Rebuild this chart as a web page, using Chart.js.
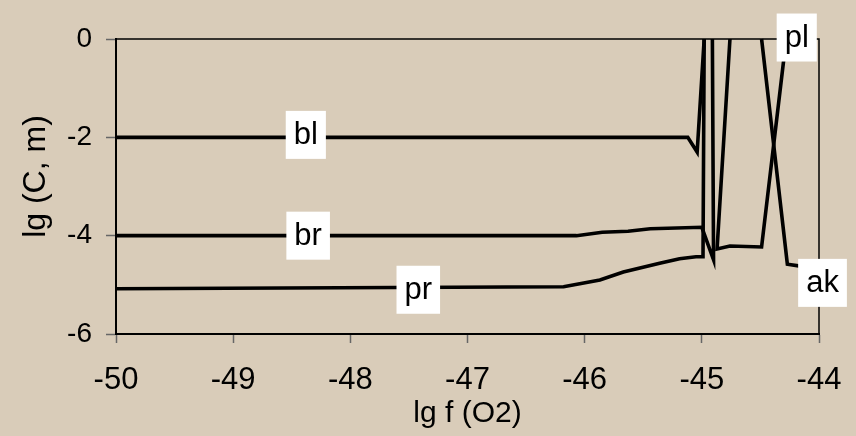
<!DOCTYPE html>
<html>
<head>
<meta charset="utf-8">
<script src="https://cdn.jsdelivr.net/npm/chart.js@4.4.1/dist/chart.umd.min.js"></script>
<style>
  html, body { margin: 0; padding: 0; background: #D9CCB9; }
  canvas { display: block; }
</style>
</head>
<body>
<canvas id="c" width="856" height="436"></canvas>
<script>
// ---- data ----
const blX = [-50, -45.12, -45.04, -44.98];
const blY = [-2, -2, -2.3, 0];

const brX = [-50, -46.07, -45.85, -45.63, -45.44, -45.0, -44.90, -44.91];
const brY = [-4, -4.0, -3.93, -3.91, -3.86, -3.83, -4.49, 0];

const prX = [-50, -46.18, -45.87, -45.67, -45.36, -45.19, -45.05, -44.99, -44.98];
const prY = [-5.08, -5.04, -4.90, -4.74, -4.56, -4.47, -4.43, -4.43, 0];

const plX = [-44.76, -44.87, -44.76, -44.49, -44.28];
const plY = [0, -4.27, -4.21, -4.23, 0];

const akX = [-44.49, -44.27, -44.16, -44.0];
const akY = [0, -4.58, -4.62, -4.65];

const seriesNames = ['bl', 'br', 'pr', 'pl', 'ak'];
const labelX = [-48.38, -48.36, -47.42, -44.19, -43.97];
const labelY = [-1.95, -4.0, -5.1, 0.03, -4.96];

const xTicks = [-50, -49, -48, -47, -46, -45, -44];
const yTicks = [0, -2, -4, -6];
const xTitle = 'lg f (O2)';
const yTitle = 'lg (C, m)';

// ---- build ----
function pts(xs, ys) { return xs.map((x, i) => ({ x: x, y: ys[i] })); }
const allX = [blX, brX, prX, plX, akX];
const allY = [blY, brY, prY, plY, akY];

const FONT = "'Liberation Sans', Arial, sans-serif";

const datasets = seriesNames.map((n, i) => ({
  label: n,
  data: pts(allX[i], allY[i]),
  showLine: true,
  borderColor: '#000000',
  backgroundColor: '#000000',
  borderWidth: 3.6,
  pointRadius: 0,
  pointHoverRadius: 0,
  tension: 0,
  clip: 3
}));

const bgPlugin = {
  id: 'bg',
  beforeDraw(chart) {
    const ctx = chart.ctx;
    ctx.save();
    ctx.fillStyle = '#D9CCB9';
    ctx.fillRect(0, 0, chart.width, chart.height);
    ctx.restore();
  }
};

const framePlugin = {
  id: 'frame',
  beforeDatasetsDraw(chart) {
    const a = chart.chartArea;
    const ctx = chart.ctx;
    ctx.save();
    ctx.strokeStyle = '#000000';
    ctx.lineWidth = 1.5;
    ctx.beginPath();
    ctx.moveTo(a.left, a.top);
    ctx.lineTo(a.right, a.top);
    ctx.lineTo(a.right, a.bottom);
    ctx.stroke();
    ctx.restore();
  }
};

const yTitlePlugin = {
  id: 'yTitle',
  afterDraw(chart) {
    const ctx = chart.ctx;
    const a = chart.chartArea;
    ctx.save();
    ctx.font = '32px ' + FONT;
    ctx.fillStyle = '#000000';
    ctx.textAlign = 'center';
    ctx.textBaseline = 'middle';
    ctx.translate(36, (a.top + a.bottom) / 2 - 10);
    ctx.rotate(-Math.PI / 2);
    ctx.fillText(yTitle, 0, 0);
    ctx.restore();
  }
};

const labelPlugin = {
  id: 'seriesLabels',
  afterDraw(chart) {
    const ctx = chart.ctx;
    const xs = chart.scales.x, ys = chart.scales.y;
    ctx.save();
    ctx.font = '31px ' + FONT;
    ctx.textAlign = 'center';
    ctx.textBaseline = 'middle';
    seriesNames.forEach((n, i) => {
      const px = xs.getPixelForValue(labelX[i]);
      const py = ys.getPixelForValue(labelY[i]);
      const w = ctx.measureText(n).width + 16;
      const h = 48;
      ctx.fillStyle = '#FFFFFF';
      ctx.fillRect(px - w / 2, py - h / 2, w, h);
      ctx.fillStyle = '#000000';
      ctx.fillText(n, px, py + 1);
    });
    ctx.restore();
  }
};

new Chart(document.getElementById('c'), {
  type: 'scatter',
  data: { datasets: datasets },
  plugins: [bgPlugin, framePlugin, yTitlePlugin, labelPlugin],
  options: {
    responsive: false,
    devicePixelRatio: 1,
    animation: false,
    events: [],
    layout: { padding: { left: 0, top: 39, right: 37, bottom: 0 } },
    plugins: { legend: { display: false }, tooltip: { enabled: false } },
    scales: {
      x: {
        type: 'linear',
        min: xTicks[0],
        max: xTicks[xTicks.length - 1],
        afterBuildTicks(scale) { scale.ticks = xTicks.map(v => ({ value: v })); },
        afterFit(scale) { scale.height = 102; scale.paddingLeft = 0; scale.paddingRight = 0; },
        ticks: { color: '#000000', font: { family: FONT, size: 31 }, padding: 19, maxRotation: 0 },
        grid: { drawOnChartArea: false, color: '#666666', tickLength: 9, tickWidth: 1.5 },
        border: { display: true, color: '#000000', width: 2 },
        title: { display: true, text: xTitle, color: '#000000', font: { family: FONT, size: 30 }, padding: { top: 0, bottom: 4 } }
      },
      y: {
        type: 'linear',
        min: -6,
        max: 0,
        afterBuildTicks(scale) { scale.ticks = yTicks.map(v => ({ value: v })); },
        afterFit(scale) { scale.width = 116; },
        ticks: { color: '#000000', font: { family: FONT, size: 28 }, padding: 14 },
        grid: { drawOnChartArea: false, color: '#666666', tickLength: 10, tickWidth: 1.5 },
        border: { display: true, color: '#000000', width: 2 },
        title: { display: false }
      }
    }
  }
});
</script>
</body>
</html>
